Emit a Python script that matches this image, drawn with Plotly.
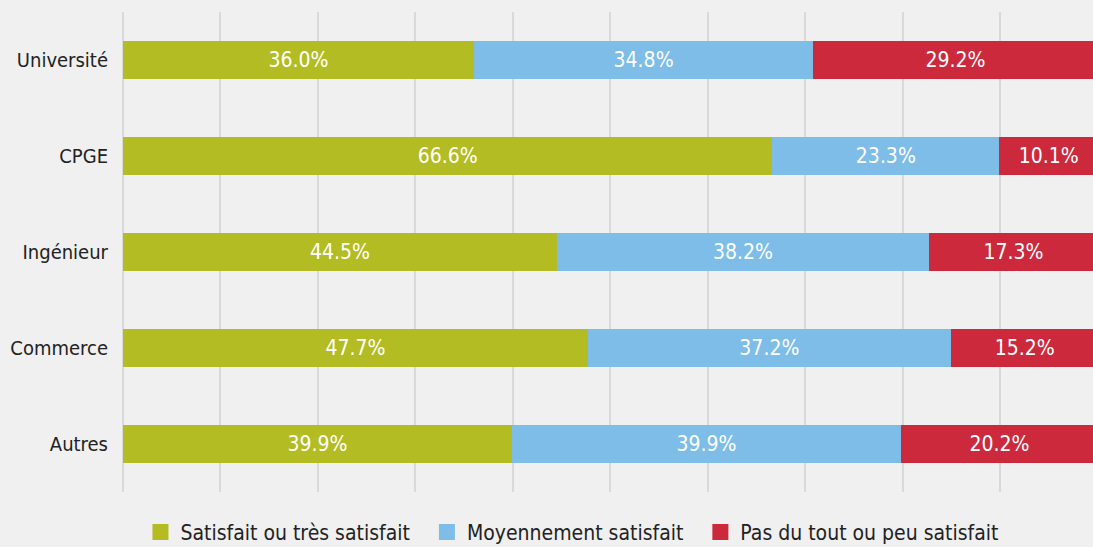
import plotly.graph_objects as go

categories = ["Université", "CPGE", "Ingénieur", "Commerce", "Autres"]
satisfait = [36.0, 66.6, 44.5, 47.7, 39.9]
moyennement = [34.8, 23.3, 38.2, 37.2, 39.9]
pas_du_tout = [29.2, 10.1, 17.3, 15.2, 20.2]
series_names = ["Satisfait ou très satisfait", "Moyennement satisfait", "Pas du tout ou peu satisfait"]
colors = ["#b3bc22", "#7dbde8", "#cc2a3c"]

FONT = "DejaVu Sans Condensed, Liberation Sans Narrow, sans-serif"
NBSP = "\u00a0"
legend_pad = [2, 2, 0]  # extra spacing after legend labels

fig = go.Figure()
for name, vals, col, pad in zip(series_names, [satisfait, moyennement, pas_du_tout], colors, legend_pad):
    fig.add_trace(go.Bar(
        y=categories, x=vals, name=name, orientation="h",
        marker=dict(color=col, line=dict(width=0)),
        texttemplate="%{x:.1f}%", textposition="inside", insidetextanchor="middle",
        textfont=dict(color="white", size=21, family=FONT),
        cliponaxis=True, showlegend=False,
    ))
    # legend entry with larger square symbol
    fig.add_trace(go.Scatter(
        x=[None], y=[None], mode="markers", name=name + NBSP * pad,
        marker=dict(symbol="square", size=16, color=col), showlegend=True,
    ))

fig.update_layout(
    barmode="stack",
    bargap=0.6,
    width=1093, height=547,
    margin=dict(l=123, r=0, t=12, b=55, autoexpand=False),
    paper_bgcolor="#f0f0f0",
    plot_bgcolor="#f0f0f0",
    font=dict(family=FONT, color="#222222"),
    showlegend=True,
    legend=dict(
        orientation="h", x=0.018, xanchor="left",
        yref="container", y=0.027, yanchor="middle",
        font=dict(size=21, family=FONT, color="#222222"),
        traceorder="normal", bgcolor="rgba(0,0,0,0)",
        itemwidth=30, itemsizing="trace",
    ),
)
fig.update_xaxes(
    range=[0, 99.5], showticklabels=False, showgrid=True, gridcolor="#d9d9d9", gridwidth=2,
    dtick=10, zeroline=True, zerolinecolor="#d9d9d9", zerolinewidth=2, fixedrange=True,
)
fig.update_yaxes(
    autorange="reversed", showgrid=False, ticks="", ticklabelstandoff=14, fixedrange=True,
    tickfont=dict(size=20, family=FONT, color="#222222"),
)

fig.write_html(
    "out.html",
    config={"displayModeBar": False},
    post_script="document.body.style.margin='0';document.body.style.background='#f0f0f0';",
)
